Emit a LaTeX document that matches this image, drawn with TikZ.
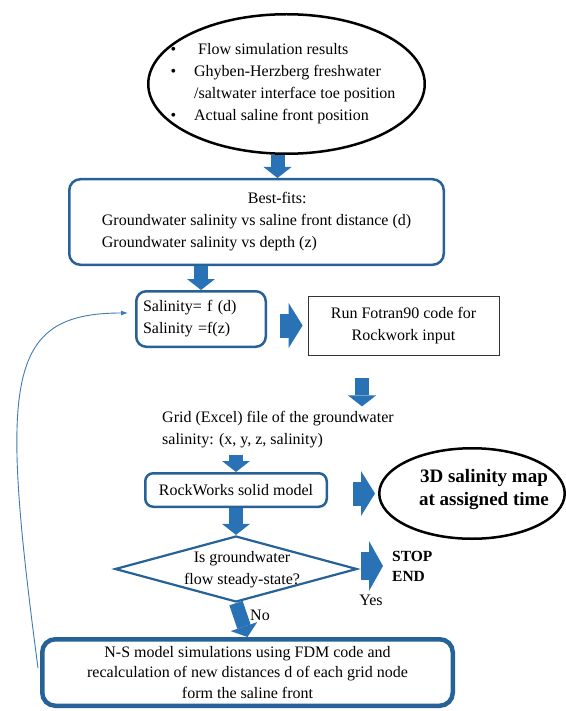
\documentclass[tikz,border=0pt]{standalone}
\usepackage{fontspec}
\setmainfont{Liberation Serif}
\usepackage{xcolor}
\usepackage{tikz}
\usetikzlibrary{calc, shapes.geometric, arrows.meta}

\definecolor{boxblue}{RGB}{38,98,152}
\definecolor{arrblue}{RGB}{42,114,182}
\definecolor{lineblue}{RGB}{62,122,180}

\begin{document}
\begin{tikzpicture}[x=1pt, y=-1pt,
    txt/.style={font=\fontsize{16}{22}\selectfont, inner sep=0pt},
    bluebox/.style={draw=boxblue, line width=2.5pt, rounded corners=11pt, inner sep=0pt},
    dnarrow/.style={arrblue, line width=14pt, -{Triangle[width=28pt, length=11pt, line width=0pt]}},
    rtarrow/.style={arrblue, line width=24pt, -{Triangle[width=45pt, length=14pt, line width=0pt]}},
    backline/.style={lineblue, line width=0.9pt, -{Latex[length=7pt, width=5pt]}}]
    \useasboundingbox (0,0) rectangle (565,711);

    % 1. Input ellipse and the best-fits box
    \node[ellipse, draw=black, line width=2.5pt, minimum width=276.5pt, minimum height=139.5pt] (res) at (286.5,84) {};
    \node[txt] (restxt) at (283,83) {%
        \begin{tabular}{@{}l@{\hspace{18pt}}l@{}}
        \textbullet & \hspace{4pt}Flow simulation results\\
        \textbullet & Ghyben-Herzberg freshwater\\
                    & /saltwater interface toe position\\
        \textbullet & Actual saline front position
        \end{tabular}};
    \node[txt, bluebox, minimum width=374.5pt, minimum height=85.5pt, align=left] (fit) at (256.5,222)
        {\hspace*{146pt}Best-fits:\\
         Groundwater salinity vs saline front distance (d)\\
         Groundwater salinity vs depth (z)};

    % 2. Salinity functions and the Fortran step
    \node[txt, bluebox, rounded corners=10pt, minimum width=129.5pt, minimum height=55.5pt,
          text width=116pt, align=left] (sal) at (201,319)
        {Salinity= f (d)\\Salinity =f(z)};
    \node[txt, draw=black!80, line width=0.8pt, minimum width=191pt, minimum height=59pt, align=center] (run) at (403.5,325.5)
        {Run Fotran90 code for\\Rockwork input};
    \node[txt, align=left, anchor=west] (grid) at (162,430)
        {Grid (Excel) file of the groundwater\\salinity: (x, y, z, salinity)};

    % 3. Solid model, map and the steady-state test
    \node[txt, bluebox, rounded corners=8pt, minimum width=181.5pt, minimum height=33.5pt] (rock) at (236,490)
        {RockWorks solid model};
    \node[ellipse, draw=black, line width=2.5pt, minimum width=185.5pt, minimum height=90.5pt] (map) at (472,493.5) {};
    \node[txt, font=\fontsize{19}{23}\selectfont\bfseries, align=center] (maptxt) at (484,489)
        {3D salinity map\\at assigned time};
    \node[diamond, draw=boxblue, line width=2.2pt, minimum width=242pt, minimum height=66pt, inner sep=0pt] (dia) at (236,569) {};
    \node[txt, align=center] (ask) at (242,570) {Is groundwater\\flow steady-state?};
    \node[txt, font=\fontsize{15.5}{20}\selectfont\bfseries, align=left, anchor=west] (stop) at (392,566) {STOP\\END};
    \node[txt] (yes) at (371,600) {Yes};
    \node[txt] (no) at (260,615) {No};

    % 4. N-S model box
    \node[txt, font=\fontsize{16}{20.5}\selectfont, draw=boxblue, line width=4.5pt, rounded corners=13pt,
          minimum width=410.5pt, minimum height=66.5pt, align=center] (ns) at (247.5,672.5)
        {N-S model simulations using FDM code and\\
         recalculation of new distances d of each grid node\\
         form the saline front};

    % 5. Block arrows
    \draw[dnarrow] ([xshift=-9pt]res.south) -- ([xshift=-9pt]res.south |- fit.north);
    \draw[dnarrow] (fit.south -| sal.north) -- (sal.north);
    \draw[rtarrow, shorten <=13pt, shorten >=5pt] (run.west -| sal.east) -- (run.west);
    \draw[dnarrow, shorten >=5pt] ([xshift=-41.5pt, yshift=-23pt]run.south) -- ([xshift=-41.5pt]run.south |- grid.north);
    \draw[dnarrow, shorten <=6pt] (rock.north |- grid.south) -- (rock.north);
    \draw[rtarrow, shorten <=25pt, shorten >=3pt] (map.west -| rock.east) -- (map.west);
    \draw[dnarrow] (rock.south) -- (dia.north);
    \draw[arrblue, line width=28pt, -{Triangle[width=50pt, length=14pt, line width=0pt]},
          shorten <=3pt, shorten >=9pt] (stop.west -| dia.east) -- (stop.west);
    \draw[dnarrow] (dia.south) -- (ns.north);

    % 6. Feedback loop back to the salinity functions
    \draw[backline, shorten >=7pt] ([xshift=-2pt, yshift=4.5pt]ns.west)
        .. controls (0,380) and (5,313) .. ([yshift=6pt]sal.west);
\end{tikzpicture}
\end{document}
